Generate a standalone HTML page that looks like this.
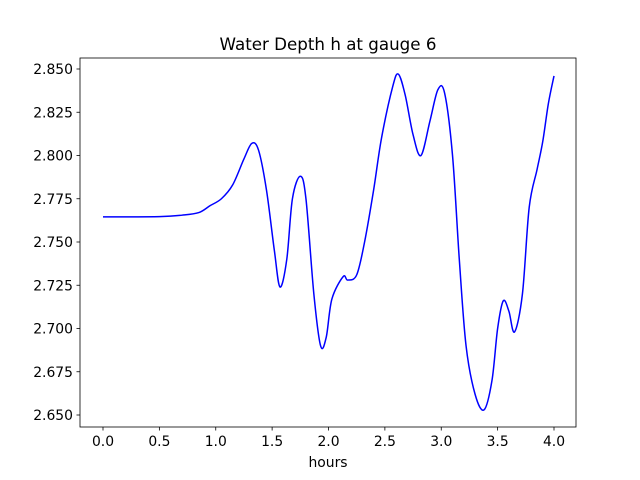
<!DOCTYPE html>
<html><head><meta charset="utf-8"><style>
html,body{margin:0;padding:0;background:#fff;}
svg{display:block;font-family:"DejaVu Sans","Liberation Sans",sans-serif;}
</style></head><body>
<svg id="chart" width="640" height="480" viewBox="0 0 640 480">
<rect width="640" height="480" fill="#fff"/>
<text x="328" y="50" text-anchor="middle" font-size="16.7">Water Depth h at gauge 6</text>
<g id="plot"></g>
<rect x="80" y="58" width="496" height="369" fill="none" stroke="#000" stroke-width="0.8"/>
<text x="328" y="467" text-anchor="middle" font-size="13.9">hours</text>
</svg>
<script>
const hours=[0,0.5,0.7,0.85,0.95,1.05,1.15,1.25,1.32,1.38,1.45,1.52,1.57,1.63,1.68,1.75,1.8,1.87,1.93,1.98,2.03,2.13,2.17,2.25,2.32,2.4,2.47,2.57,2.62,2.68,2.75,2.82,2.9,2.97,3.03,3.1,3.16,3.22,3.3,3.38,3.45,3.5,3.55,3.6,3.65,3.72,3.78,3.85,3.9,3.95,4.0];
const depth=[2.7645,2.7647,2.7655,2.767,2.771,2.775,2.783,2.798,2.807,2.803,2.78,2.745,2.724,2.74,2.775,2.788,2.775,2.72,2.69,2.695,2.717,2.73,2.728,2.731,2.75,2.78,2.81,2.84,2.847,2.835,2.812,2.8,2.82,2.838,2.836,2.8,2.74,2.69,2.662,2.653,2.67,2.7,2.716,2.71,2.698,2.72,2.77,2.792,2.808,2.83,2.846];
const xTicks=[0,0.5,1,1.5,2,2.5,3,3.5,4];
const xTickLabels=["0.0","0.5","1.0","1.5","2.0","2.5","3.0","3.5","4.0"];
const yTicks=[2.65,2.675,2.7,2.725,2.75,2.775,2.8,2.825,2.85];
const yTickLabels=["2.650","2.675","2.700","2.725","2.750","2.775","2.800","2.825","2.850"];
const NS="http://www.w3.org/2000/svg";
const sx=h=>103+h*112.75;
const sy=v=>415-(v-2.65)*1730;
const g=document.getElementById('plot');
function mk(t,a){const e=document.createElementNS(NS,t);for(const k in a)e.setAttribute(k,a[k]);return e;}
xTicks.forEach((t,i)=>{
  const l=mk('line',{x1:sx(t),x2:sx(t),y1:427,y2:430.5,stroke:'#000','stroke-width':0.8});
  
  
  g.appendChild(l);
  const tx=mk('text',{x:sx(t),y:446,'text-anchor':'middle','font-size':13.9});
  tx.textContent=xTickLabels[i];
  
  
  g.appendChild(tx);
});
yTicks.forEach((t,i)=>{
  const l=mk('line',{x1:76.5,x2:80,y1:sy(t),y2:sy(t),stroke:'#000','stroke-width':0.8});
  
  
  g.appendChild(l);
  const tx=mk('text',{x:73,y:sy(t)+5,'text-anchor':'end','font-size':13.9});
  tx.textContent=yTickLabels[i];
  
  
  g.appendChild(tx);
});
const P=hours.map((h,i)=>[sx(h),sy(depth[i])]);
let d='M'+P[0][0]+','+P[0][1];
for(let i=0;i<P.length-1;i++){
  const p0=P[Math.max(0,i-1)],p1=P[i],p2=P[i+1],p3=P[Math.min(P.length-1,i+2)];
  const c1=[p1[0]+(p2[0]-p0[0])/6,p1[1]+(p2[1]-p0[1])/6];
  const c2=[p2[0]-(p3[0]-p1[0])/6,p2[1]-(p3[1]-p1[1])/6];
  d+=`C${c1[0]},${c1[1]} ${c2[0]},${c2[1]} ${p2[0]},${p2[1]}`;
}
const path=mk('path',{d:d,fill:'none',stroke:'#0000ff','stroke-width':1.5});


g.appendChild(path);
</script>
</body></html>
